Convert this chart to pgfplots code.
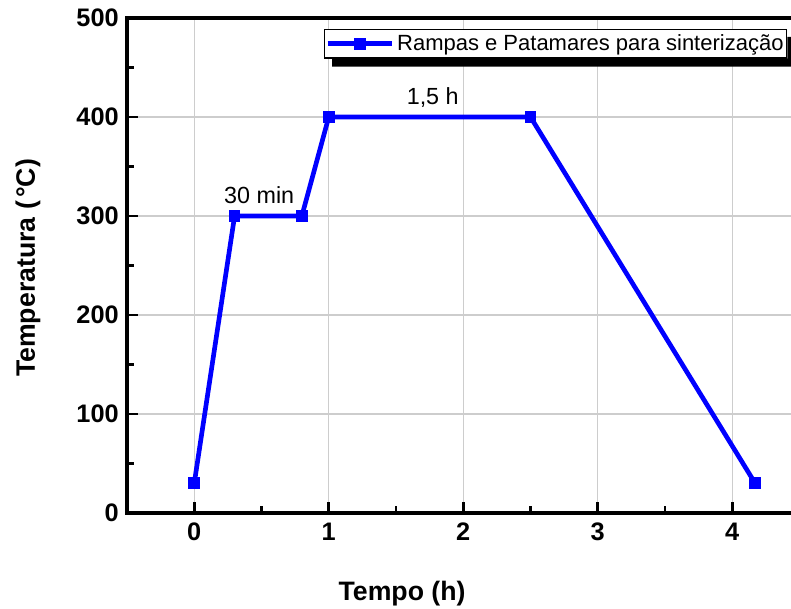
\documentclass[border=0pt]{standalone}
\usepackage{pgfplots}
\pgfplotsset{compat=1.18}
\usepackage{fontspec}
\setmainfont{Liberation Sans}
\definecolor{lineblue}{RGB}{0,0,255}
\definecolor{gridgray}{RGB}{205,205,205}
\begin{document}
\begin{tikzpicture}
\useasboundingbox (-95.25pt,-72pt) rectangle (498pt,384.75pt);
\begin{axis}[
  scale only axis,
  width=504.4pt, height=371.25pt,
  xmin=-0.5, xmax=4.5, ymin=0, ymax=500,
  axis x line=box, axis y line=left,
  axis line style={-, line width=2.8pt, line cap=rect},
  xtick={0,1,2,3,4}, ytick={0,100,200,300,400,500},
  minor xtick={0.5,1.5,2.5,3.5}, minor ytick={50,150,250,350,450},
  xtick pos=left, ytick pos=left,
  tick align=inside,
  major tick length=8pt, minor tick length=5pt,
  every tick/.style={black, line width=2.2pt},
  grid=major,
  major grid style={gridgray, line width=0.8pt},
  /pgf/number format/assume math mode=true,
  tick label style={font=\fontsize{19}{19}\selectfont\bfseries},
  xticklabel style={yshift=-3.8pt},
  yticklabel style={xshift=-2.7pt},
  xlabel={Tempo (h)},
  ylabel={Temperatura (\kern0.12em°C)},
  label style={font=\fontsize{20}{20}\selectfont\bfseries},
  xlabel style={at={(axis description cs:0.409,-0.1758)}, anchor=base},
  ylabel style={at={(axis description cs:-0.137,0.495)}, anchor=base, rotate=0},
  legend style={name=lgd, at={(axis description cs:0.982,0.978)}, anchor=north east,
    draw=black, line width=0.8pt, fill=white,
    font=\fontsize{16.5}{16.5}\selectfont,
    inner xsep=0.5pt, inner ysep=2pt},
  legend image code/.code={\draw[mark repeat=2,mark phase=2] plot coordinates {(0cm,0cm) (0.85cm,0cm) (1.7cm,0cm)};},
  clip=false,
]
\addplot[color=lineblue, line width=3.5pt, mark=square*, mark size=4pt,
  mark options={fill=lineblue, draw=lineblue, line width=0pt}]
  coordinates {(0,30) (0.3,300) (0.8,300) (1,400) (2.5,400) (4.17,30)};
\addlegendentry{Rampas e Patamares para sinterização}
\node[anchor=base, font=\fontsize{17.5}{17.5}\selectfont] at (axis cs:0.483,313) {30 min};
\node[anchor=base, font=\fontsize{17.5}{17.5}\selectfont] at (axis cs:1.773,413) {1,5 h};
\end{axis}
\fill[black] ([xshift=6pt]lgd.south west) -- ([xshift=6pt,yshift=-6pt]lgd.south west)
  -- ([xshift=6pt,yshift=-6pt]lgd.south east) -- ([xshift=6pt,yshift=-6pt]lgd.north east)
  -- ([yshift=-6pt]lgd.north east) -- (lgd.south east) -- cycle;
\end{tikzpicture}
\end{document}
